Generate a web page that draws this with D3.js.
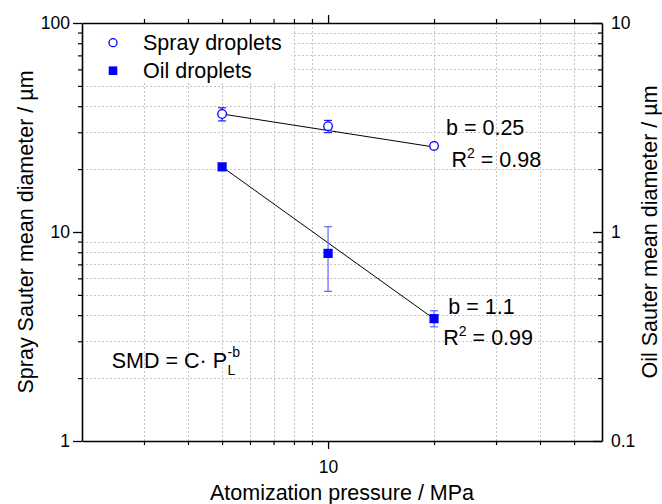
<!DOCTYPE html>
<html>
<head>
<meta charset="utf-8">
<script src="https://cdn.jsdelivr.net/npm/d3@7"></script>
<style>
	body { margin: 0; background: #fff; }
	text { font-family: "Liberation Sans", Arial, sans-serif; fill: #000; }
	.grid line { stroke: #c4c4c4; stroke-width: 1; stroke-dasharray: 2,2; }
	.axis path, .axis line { stroke: #000; }
</style>
</head>
<body>
<svg id="chart"></svg>
<script>
// pressure (MPa)
let pressure = [5, 10, 20];

// spray droplets, left axis (um)
let spraySMD = [36.7, 32.1, 25.8];
let sprayLow = [34.0, 29.9, 25.1];
let sprayHigh = [39.3, 34.2, 26.6];

// oil droplets, right axis (um)
let oilSMD = [2.05, 0.79, 0.385];
let oilLow = [2.03, 0.52, 0.352];
let oilHigh = [2.07, 1.06, 0.42];

// power-law fits  SMD = C * P^-b
let fitP = [5, 20];
let sprayFit = [36.7, 25.5];
let oilFit = [2.05, 0.384];

let xTicks = [10];
let leftTicks = [1, 10, 100];
let rightTicks = [0.1, 1, 10];
let minorX = [3, 4, 5, 6, 7, 8, 9, 20, 30, 40, 50];
let minorLeft = [2, 3, 4, 5, 6, 7, 8, 9, 20, 30, 40, 50, 60, 70, 80, 90];

let legendLabels = ["Spray droplets", "Oil droplets"];

let width = 662, height = 504;
let pLeft = 82, pRight = 602, pTop = 23, pBottom = 441;

let svg = d3.select("#chart")
	.attr("width", width)
	.attr("height", height);

let x = d3.scaleLog().domain([2, 60]).range([pLeft, pRight]);
let yL = d3.scaleLog().domain([1, 100]).range([pBottom, pTop]);
let yR = d3.scaleLog().domain([0.1, 10]).range([pBottom, pTop]);

// minor grid
let grid = svg.append("g").attr("class", "grid");
grid.selectAll("line.v")
	.data(minorX)
	.join("line")
	.attr("class", "v")
	.attr("x1", d => Math.round(x(d)) + 0.5)
	.attr("x2", d => Math.round(x(d)) + 0.5)
	.attr("y1", pTop)
	.attr("y2", pBottom);
grid.selectAll("line.h")
	.data(minorLeft)
	.join("line")
	.attr("class", "h")
	.attr("y1", d => Math.round(yL(d)) + 0.5)
	.attr("y2", d => Math.round(yL(d)) + 0.5)
	.attr("x1", pLeft)
	.attr("x2", pRight);

// legend background hides the grid
svg.append("rect")
	.attr("x", pLeft + 1)
	.attr("y", pTop + 1)
	.attr("width", 208)
	.attr("height", 58)
	.attr("fill", "#fff");

// axes: major ticks then minor ticks
function drawAxis(axisFn, scale, tr, majors, minors, majLen, minLen, labels){
	let g = svg.append("g").attr("class", "axis").attr("transform", tr);
	g.call(axisFn(scale).tickValues(majors).tickSize(majLen)
		.tickFormat(labels ? d3.format("~g") : "").tickSizeOuter(0))
		.call(g => g.select(".domain").attr("stroke-width", 1.6));
	g.selectAll(".tick line").attr("stroke-width", 1.3);
	let m = svg.append("g").attr("class", "axis").attr("transform", tr);
	m.call(axisFn(scale).tickValues(minors).tickSize(minLen).tickFormat(""))
		.call(g => g.select(".domain").remove());
	m.selectAll(".tick line").attr("stroke-width", 1.2);
	return g;
}

let bx = drawAxis(d3.axisBottom, x, `translate(0,${pBottom})`, xTicks, minorX, 8, 4, true);
bx.selectAll("text").attr("font-size", 17.5).attr("dy", "1.2em");
drawAxis(d3.axisTop, x, `translate(0,${pTop})`, xTicks, minorX, 8, 4, false);

let ly = drawAxis(d3.axisLeft, yL, `translate(${pLeft},0)`, leftTicks, minorLeft, 9, 4, true);
ly.selectAll("text").attr("font-size", 17.5).attr("x", -12);

let ry = drawAxis(d3.axisRight, yR, `translate(${pRight},0)`, rightTicks, minorLeft.map(d => d / 10), -9, -4, true);
ry.selectAll("text").attr("font-size", 17.5).attr("x", 9);

// fit lines
let line = d3.line();
svg.append("path")
	.attr("d", line(fitP.map((p, i) => [x(p), yL(sprayFit[i])])))
	.attr("fill", "none").attr("stroke", "#000").attr("stroke-width", 1);
svg.append("path")
	.attr("d", line(fitP.map((p, i) => [x(p), yR(oilFit[i])])))
	.attr("fill", "none").attr("stroke", "#000").attr("stroke-width", 1);

// error bars
function errorBars(yScale, low, high, color){
	let g = svg.append("g").attr("stroke", color).attr("stroke-width", 1.2);
	pressure.forEach((p, i) => {
		let cx = x(p);
		g.append("line").attr("x1", cx).attr("x2", cx)
			.attr("y1", yScale(low[i])).attr("y2", yScale(high[i]));
		[low[i], high[i]].forEach(v => {
			g.append("line").attr("x1", cx - 4).attr("x2", cx + 4)
				.attr("y1", yScale(v)).attr("y2", yScale(v));
		});
	});
}
errorBars(yL, sprayLow, sprayHigh, "#1a1aff");
errorBars(yR, oilLow, oilHigh, "#6262ff");

// markers
svg.selectAll("circle.spray")
	.data(pressure)
	.join("circle")
	.attr("class", "spray")
	.attr("cx", d => x(d))
	.attr("cy", (d, i) => yL(spraySMD[i]))
	.attr("r", 4.3)
	.attr("fill", "#fff")
	.attr("stroke", "#0000ff")
	.attr("stroke-width", 1.3);
svg.selectAll("rect.oil")
	.data(pressure)
	.join("rect")
	.attr("class", "oil")
	.attr("x", d => x(d) - 4.6)
	.attr("y", (d, i) => yR(oilSMD[i]) - 4.6)
	.attr("width", 9.2)
	.attr("height", 9.2)
	.attr("fill", "#0000ff");

// legend
svg.append("circle").attr("cx", 113).attr("cy", 42.7).attr("r", 4)
	.attr("fill", "#fff").attr("stroke", "#0000ff").attr("stroke-width", 1.3);
svg.append("rect").attr("x", 108.7).attr("y", 66.4).attr("width", 8.6).attr("height", 8.6)
	.attr("fill", "#0000ff");
svg.selectAll("text.legend")
	.data(legendLabels)
	.join("text")
	.attr("class", "legend")
	.attr("x", 143)
	.attr("y", (d, i) => 50.3 + i * 28)
	.attr("font-size", 21.5)
	.text(d => d);

// annotations
function rSquared(tx, ty, val){
	let t = svg.append("text").attr("x", tx).attr("y", ty).attr("font-size", 21.5);
	t.append("tspan").text("R");
	t.append("tspan").attr("font-size", 14).attr("dy", -9).text("2");
	t.append("tspan").attr("dy", 9).text(" = " + val);
}
svg.append("text").attr("x", 446).attr("y", 134.5).attr("font-size", 21.5).text("b = 0.25");
rSquared(451.5, 167, "0.98");
svg.append("text").attr("x", 448.3).attr("y", 313.5).attr("font-size", 21.5).text("b = 1.1");
rSquared(443.3, 345, "0.99");

let smd = svg.append("text").attr("x", 111.7).attr("y", 368.3).attr("font-size", 21.5).text("SMD = C· P");
let smdEnd = 111.7 + smd.node().getComputedTextLength();
svg.append("text").attr("x", smdEnd + 0.5).attr("y", 357).attr("font-size", 14).text("-b");
svg.append("text").attr("x", smdEnd + 0.5).attr("y", 374.5).attr("font-size", 14).text("L");

// axis titles
svg.append("text")
	.attr("x", (pLeft + pRight) / 2)
	.attr("y", 500)
	.attr("text-anchor", "middle")
	.attr("font-size", 21.5)
	.text("Atomization pressure / MPa");
svg.append("text")
	.attr("transform", `translate(33,${(pTop + pBottom) / 2}) rotate(-90)`)
	.attr("text-anchor", "middle")
	.attr("font-size", 21.5)
	.text("Spray Sauter mean diameter / µm");
svg.append("text")
	.attr("transform", `translate(657,${(pTop + pBottom) / 2}) rotate(-90)`)
	.attr("text-anchor", "middle")
	.attr("font-size", 21.5)
	.text("Oil Sauter mean diameter / µm");
</script>
</body>
</html>
